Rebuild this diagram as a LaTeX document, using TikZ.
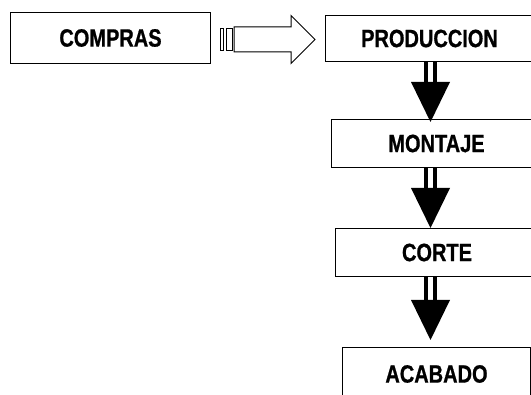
\documentclass[tikz,border=0pt]{standalone}
\usepackage{fontspec}
\setmainfont{Liberation Sans}[FakeStretch=0.8, BoldFeatures={FakeBold=0.8}]
\usetikzlibrary{calc}

\begin{document}
\begin{tikzpicture}[
  x=1pt, y=-1pt,
  box/.style={draw, line width=1pt, anchor=north west, inner sep=0pt,
    font=\fontsize{25}{29}\selectfont\bfseries},
  bar/.style={fill=black},
  hollow/.style={draw, line width=1pt, fill=white, line join=miter},
]
\useasboundingbox (0,0) rectangle (531,395);

% Boxes
\node[box, minimum width=200, minimum height=51] (compras) at (10,12) {COMPRAS};
\node[box, minimum width=208, minimum height=46] (prod) at (325,15) {PRODUCCION};
\node[box, minimum width=210, minimum height=48] (mont) at (331,119) {MONTAJE};
\node[box, minimum width=203, minimum height=48] (corte) at (335,228) {CORTE};
\node[box, minimum width=188, minimum height=53] (acab) at (342,347) {ACABADO};

% Striped arrow COMPRAS -> PRODUCCION
\coordinate (a0) at ($(compras.east)+(9,1.5)$);
\coordinate (a1) at ($(prod.west)+(-10,0)$);
\draw[hollow] ($(a0)+(0,-11)$) rectangle ($(a0)+(3,11)$);
\draw[hollow] ($(a0)+(6,-11)$) rectangle ($(a0)+(12,11)$);
\draw[hollow] ($(a0)+(14,-12.5)$) -- ($(a0 -| a1)+(-24,-12.5)$)
  -- ($(a0 -| a1)+(-24,-24)$) -- (a0 -| a1) -- ($(a0 -| a1)+(-24,24)$)
  -- ($(a0 -| a1)+(-24,12.5)$) -- ($(a0)+(14,12.5)$) -- cycle;

% Down arrows
\coordinate (ax) at (430.5,0);
\foreach \a/\b/\g in {prod/mont/-3, mont/corte/0, corte/acab/7}{
  \coordinate (s) at (\a.south -| ax);
  \coordinate (t) at ($(\b.north -| ax)+(0,-\g)$);
  \fill[bar] ($(s)+(-6.5,0)$) rectangle ($(t)+(-2.5,-40)$);
  \fill[bar] ($(s)+(2.5,0)$) rectangle ($(t)+(6.5,-40)$);
  \fill[bar] (t) -- ++(-19.5,-40) -- ++(39,0) -- cycle;
}

\end{tikzpicture}
\end{document}
